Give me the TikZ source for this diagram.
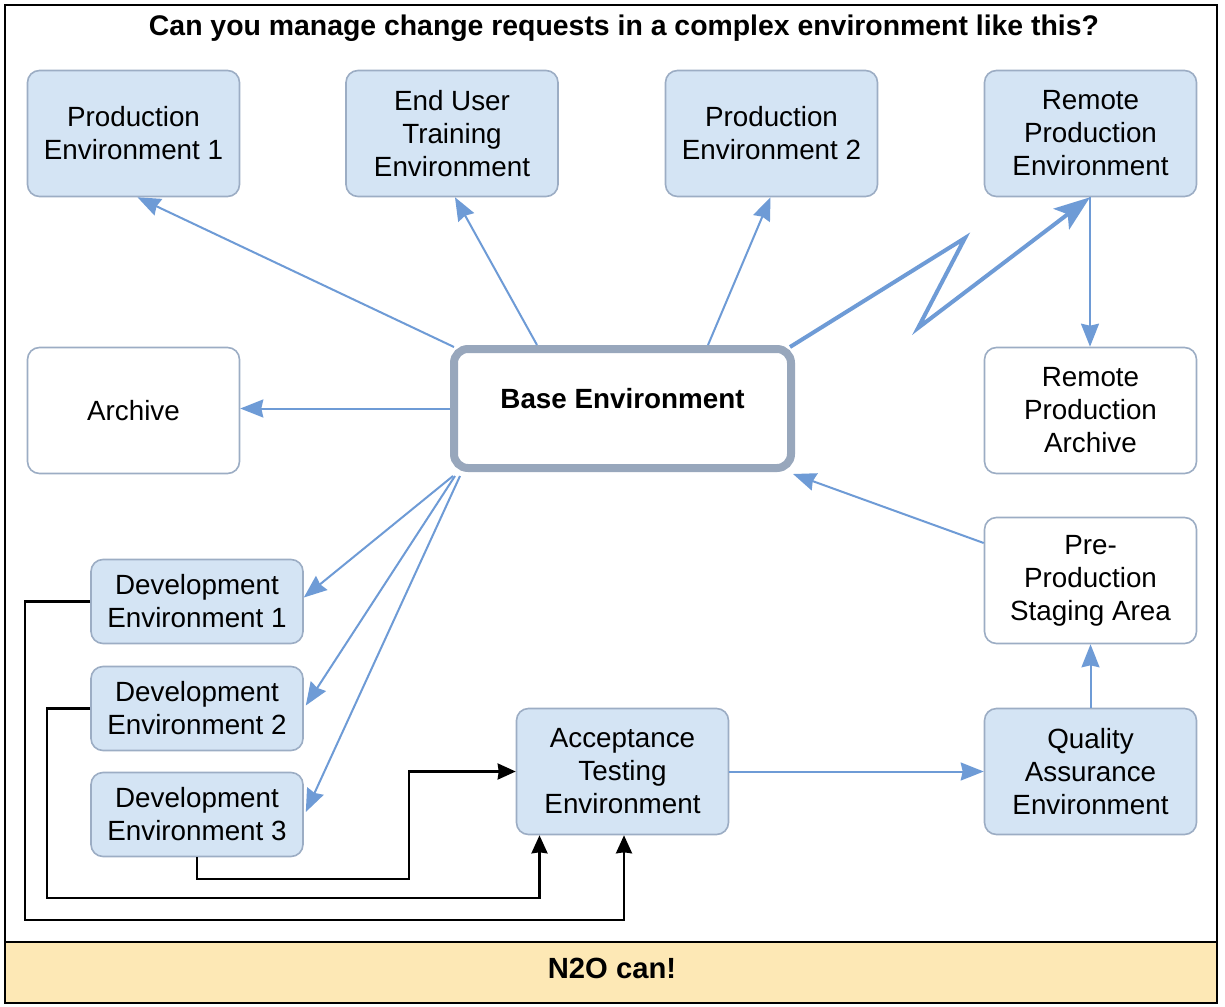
\documentclass[tikz,border=0pt]{standalone}
\usepackage{fontspec}
\setmainfont{Liberation Sans}
\usetikzlibrary{arrows.meta}
\definecolor{envfill}{HTML}{D4E4F4}
\definecolor{envline}{HTML}{9CADC4}
\definecolor{arrblue}{HTML}{6E9BD6}
\definecolor{baseline}{HTML}{98A7BC}
\definecolor{bandfill}{HTML}{FDE8B5}
\tikzset{
  txt/.style={font=\fontsize{13.9pt}{16.5pt}\selectfont, align=center},
  envbox/.style={txt, draw=envline, fill=envfill, line width=0.8pt, rounded corners=6pt,
    minimum width=106pt, minimum height=63pt, inner sep=0pt},
  wbox/.style={envbox, fill=white},
  devbox/.style={envbox, minimum height=42pt},
  basebox/.style={txt, draw=baseline, line width=4pt, rounded corners=7pt, fill=white,
    minimum width=168.5pt, minimum height=59.5pt, inner sep=0pt},
  barrow/.style={draw=arrblue, line width=1pt, -{Stealth[length=11.5pt,width=9pt,inset=1pt]}},
  zarrow/.style={draw=arrblue, line width=2pt, -{Stealth[length=18pt,width=13pt,inset=4pt]}},
  karrow/.style={draw=black, line width=1.2pt, -{Stealth[length=9pt,width=8pt,inset=0.5pt]}},
  titletxt/.style={font=\fontsize{14.2pt}{16.5pt}\selectfont\bfseries},
}
\begin{document}
\begin{tikzpicture}[x=0.5pt,y=-0.5pt]
\useasboundingbox (0,0) rectangle (1225,1006);
% frame and band
\draw[line width=1pt, fill=white] (5,5) rectangle (1217,1003);
\draw[line width=1pt, fill=bandfill] (5,942) rectangle (1217,1003);
\node[titletxt] (title) at (624,28) {Can you manage change requests in a complex environment like this?};
\node[titletxt, font=\fontsize{14.6pt}{16.5pt}\selectfont\bfseries] (can) at (612,968) {N2O can!};
% nodes
\node[envbox] (p1) at (133.5,133.5) {Production\\Environment 1};
\node[envbox] (eut) at (452,133.5) {End User\\Training\\Environment};
\node[envbox] (p2) at (771.5,133.5) {Production\\Environment 2};
\node[envbox] (rp) at (1090.5,133.5) {Remote\\Production\\Environment};
\node[wbox] (arch) at (133.5,410.5) {Archive};
\node[basebox] (base) at (622.5,408.5) {\raisebox{4.75pt}[\height][\depth]{\textbf{Base Environment}}};
\node[wbox] (rpa) at (1090.5,410.5) {Remote\\Production\\Archive};
\node[wbox] (pps) at (1090.5,580.5) {Pre-\\Production\\Staging Area};
\node[envbox] (qa) at (1090.5,771.5) {Quality\\Assurance\\Environment};
\node[envbox] (at) at (622.5,771.5) {Acceptance\\Testing\\Environment};
\node[devbox] (d1) at (197,601.5) {Development\\Environment 1};
\node[devbox] (d2) at (197,708.5) {Development\\Environment 2};
\node[devbox] (d3) at (197,814.5) {Development\\Environment 3};
% blue connectors
\draw[barrow] ([xshift=2pt,yshift=-1pt]base.north west) -- ([xshift=2pt]p1.south);
\draw[barrow] ([xshift=43.5pt]base.north west) -- ([xshift=1.5pt]eut.south);
\draw[barrow] ([xshift=42.75pt]base.north) -- ([xshift=-0.5pt]p2.south);
\coordinate (z1) at (965,238);
\coordinate (z2) at (918,328);
\draw[zarrow] ([xshift=-2.5pt,yshift=-1pt]base.north east) -- (z1) -- (z2) -- ([xshift=-0.25pt]rp.south);
\draw[barrow] ([xshift=-0.25pt]rp.south) -- ([xshift=-0.25pt]rpa.north);
\draw[barrow] (base.west) -- (base.west -| arch.east);
\draw[barrow] ([yshift=18.75pt]pps.west) -- ([xshift=-1pt,yshift=-1pt]base.south east);
\draw[barrow] (qa.north) -- (pps.south);
\draw[barrow] (at.east) -- (qa.west);
\draw[barrow] ([xshift=1.5pt,yshift=-2pt]base.south west) -- ([yshift=2pt]d1.east);
\draw[barrow] ([xshift=2.5pt,yshift=-2pt]base.south west) -- ([xshift=1pt,yshift=1.5pt]d2.east);
\draw[barrow] ([xshift=5pt,yshift=-2pt]base.south west) -- ([xshift=1pt,yshift=1.25pt]d3.east);
% black connectors
\coordinate (c1) at (25,920);
\coordinate (c2) at (47,898);
\coordinate (c3) at (409,879);
\draw[karrow] (d1.west) -| (c1) -| ([xshift=0.75pt]at.south);
\draw[karrow] (d2.west) -| (c2) -| ([xshift=-41.5pt]at.south);
\draw[karrow] (d3.south) |- (c3) |- (at.west);
\end{tikzpicture}
\end{document}
